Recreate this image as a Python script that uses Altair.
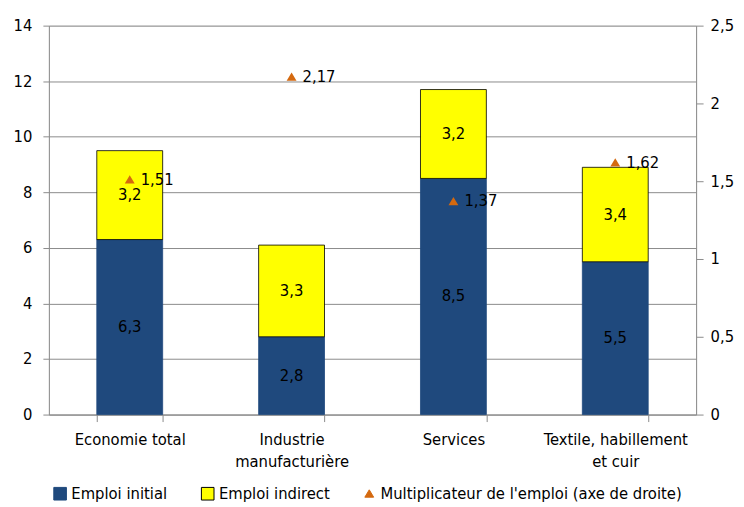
import altair as alt
import pandas as pd

categories = ["Economie total", "Industrie|manufacturière", "Services", "Textile, habillement|et cuir"]
initial = [6.3, 2.8, 8.5, 5.5]
indirect = [3.2, 3.3, 3.2, 3.4]
multiplier = [1.51, 2.17, 1.37, 1.62]

series_names = ["Emploi initial", "Emploi indirect", "Multiplicateur de l'emploi (axe de droite)"]
colors = ["#1F497D", "#FFFF00", "#D4690F"]
strokes = ["#1F497D", "#000000", "#D4690F"]
TRI = "M0,-0.62L0.7,0.55L-0.7,0.55Z"

FONT = "DejaVu Sans Condensed"
FS = 16.5

rows = []
for c, a, b in zip(categories, initial, indirect):
    rows.append({"cat": c, "series": series_names[0], "value": a, "order": 0,
                 "mid": a / 2, "label": f"{a:.1f}".replace(".", ",")})
    rows.append({"cat": c, "series": series_names[1], "value": b, "order": 1,
                 "mid": a + b / 2, "label": f"{b:.1f}".replace(".", ",")})
bars_df = pd.DataFrame(rows)

mult_df = pd.DataFrame({
    "cat": categories,
    "series": [series_names[2]] * len(categories),
    "mult": multiplier,
    "label": [f"{m:.2f}".replace(".", ",") for m in multiplier],
})

xenc = alt.X("cat:N", sort=categories, title=None,
             scale=alt.Scale(paddingInner=0.593, paddingOuter=0.296),
             axis=alt.Axis(labelExpr="split(datum.label, '|')", labelAngle=0,
                           labelFont=FONT, labelFontSize=FS, labelColor="black",
                           labelPadding=10, labelLineHeight=22,
                           tickBand="extent", ticks=True, tickSize=7,
                           tickColor="#8C8C8C", domainColor="#8C8C8C",
                           grid=False))

color_scale = alt.Scale(domain=series_names, range=colors)
stroke_scale = alt.Scale(domain=series_names, range=strokes)
legend = alt.Legend(title=None, orient="none", direction="horizontal",
                    legendX=3, legendY=461, labelFont=FONT, labelFontSize=FS,
                    labelColor="black", symbolSize=160, symbolStrokeWidth=1,
                    columnPadding=31, labelOffset=3, labelLimit=400)

bars = alt.Chart(bars_df).mark_bar(strokeWidth=0.8).encode(
    x=xenc,
    y=alt.Y("value:Q", stack="zero", title=None,
            scale=alt.Scale(domain=[0, 14], nice=False),
            axis=alt.Axis(values=list(range(0, 15, 2)), labelFont=FONT, labelFontSize=FS,
                          labelColor="black", tickColor="#8C8C8C", tickSize=6,
                          domainColor="#8C8C8C", gridColor="#8C8C8C", labelPadding=11)),
    color=alt.Color("series:N", scale=color_scale, legend=legend),
    stroke=alt.Stroke("series:N", scale=stroke_scale, legend=legend),
    order=alt.Order("order:Q"),
)

bar_text = alt.Chart(bars_df).mark_text(font=FONT, fontSize=FS, color="black").encode(
    x=alt.X("cat:N", sort=categories),
    y=alt.Y("mid:Q"),
    text="label:N",
)

left = alt.layer(bars, bar_text)

yr = alt.Y("mult:Q", title=None, scale=alt.Scale(domain=[0, 2.5], nice=False),
           axis=alt.Axis(orient="right", values=[0, 0.5, 1, 1.5, 2, 2.5],
                         labelExpr="replace(format(datum.value, '~g'), '.', ',')",
                         labelFont=FONT, labelFontSize=FS, labelColor="black",
                         tickColor="#8C8C8C", tickSize=7, domainColor="#8C8C8C",
                         grid=False, labelPadding=7))

pts = alt.Chart(mult_df).mark_point(filled=True, opacity=1, size=200).encode(
    x=alt.X("cat:N", sort=categories),
    y=yr,
    color=alt.Color("series:N", scale=color_scale, legend=legend),
    shape=alt.Shape("series:N", scale=alt.Scale(domain=series_names,
                                                range=["square", "square", TRI]),
                    legend=legend),
)

pt_text = alt.Chart(mult_df).mark_text(font=FONT, fontSize=FS, color="black",
                                       align="left", dx=11, dy=0).encode(
    x=alt.X("cat:N", sort=categories),
    y=alt.Y("mult:Q", scale=alt.Scale(domain=[0, 2.5], nice=False)),
    text="label:N",
)

right = alt.layer(pts, pt_text)

chart = alt.layer(left, right).resolve_scale(y="independent").properties(
    width=649, height=390,
    autosize=alt.AutoSizeParams(type="none"),
    padding={"left": 41, "top": 17, "right": 40, "bottom": 92},
).configure_view(stroke=None).configure(background="white")

chart.save("out.html", embed_options={"renderer": "svg", "actions": False})
